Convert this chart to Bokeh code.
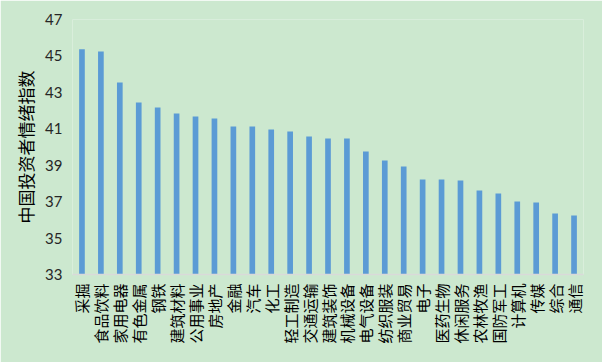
from bokeh.plotting import figure
from bokeh.models import ColumnDataSource, FixedTicker, Range1d
from bokeh.embed import file_html
from bokeh.resources import INLINE
import math

categories = ["采掘", "食品饮料", "家用电器", "有色金属", "钢铁", "建筑材料", "公用事业", "房地产",
              "金融", "汽车", "化工", "轻工制造", "交通运输", "建筑装饰", "机械设备", "电气设备",
              "纺织服装", "商业贸易", "电子", "医药生物", "休闲服务", "农林牧渔", "国防军工",
              "计算机", "传媒", "综合", "通信"]
values = [45.36, 45.25, 43.54, 42.45, 42.17, 41.84, 41.68, 41.57,
          41.13, 41.13, 40.96, 40.85, 40.58, 40.47, 40.47, 39.75,
          39.26, 38.93, 38.22, 38.22, 38.16, 37.61, 37.45,
          37.01, 36.95, 36.35, 36.24]
y_ticks = [33, 35, 37, 39, 41, 43, 45, 47]
y_label = "中国投资者情绪指数"

bg = "#CCE8CF"
src = ColumnDataSource(data=dict(cat=categories, val=values))

p = figure(x_range=categories, y_range=Range1d(33, 47), width=602, height=362,
           output_backend="svg", toolbar_location=None,
           min_border_left=72, min_border_right=19, min_border_top=19, min_border_bottom=88)
p.vbar(x="cat", top="val", bottom=33, width=0.3, source=src,
       fill_color="#5B9BD5", line_color=None)

p.x_range.range_padding = 0
p.background_fill_color = bg
p.border_fill_color = bg
p.outline_line_color = None
p.xgrid.grid_line_color = None
p.ygrid.grid_line_color = None

p.yaxis.ticker = FixedTicker(ticks=y_ticks)
p.yaxis.axis_line_color = None
p.yaxis.major_tick_line_color = None
p.yaxis.minor_tick_line_color = None
p.yaxis.major_tick_out = 0
p.yaxis.major_label_standoff = 10
p.yaxis.major_label_text_font = "Lato"
p.yaxis.major_label_text_font_size = "15px"
p.yaxis.major_label_text_color = "#262626"
p.yaxis.axis_label = y_label
p.yaxis.axis_label_text_font = "Noto Sans CJK SC"
p.yaxis.axis_label_text_font_size = "17px"
p.yaxis.axis_label_text_font_style = "normal"
p.yaxis.axis_label_text_color = "#000000"
p.yaxis.axis_label_standoff = 4

p.xaxis.axis_line_color = "#D9D9D9"
p.xaxis.axis_line_width = 1.5
p.xaxis.major_tick_line_color = None
p.xaxis.minor_tick_line_color = None
p.xaxis.major_tick_out = 0
p.xaxis.major_label_standoff = 9
p.xaxis.major_label_orientation = math.pi / 2
p.xaxis.major_label_text_font = "Noto Sans CJK SC"
p.xaxis.major_label_text_font_size = "15px"
p.xaxis.major_label_text_color = "#000000"

open("out.html", "w").write(file_html(p, INLINE))
